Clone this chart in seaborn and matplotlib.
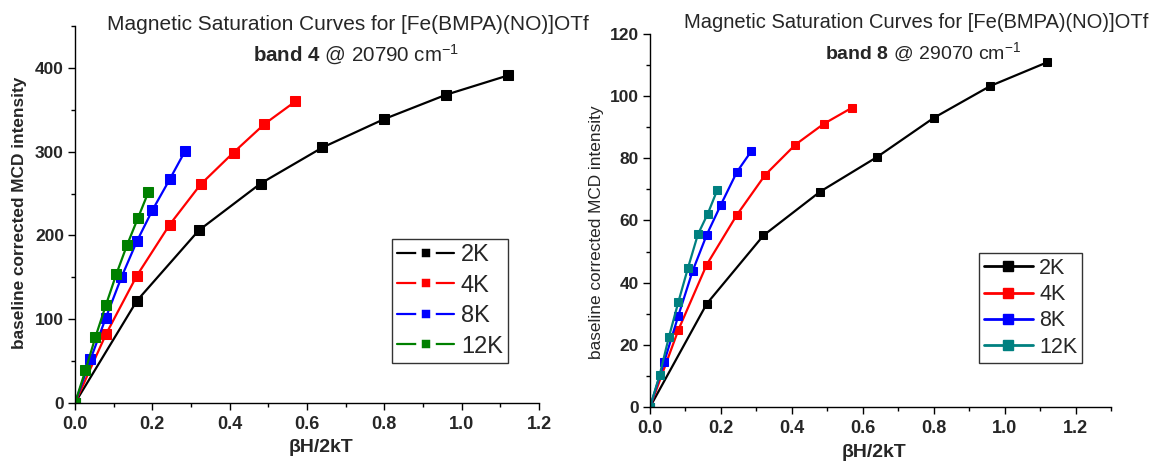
import numpy as np
import pandas as pd
import matplotlib
matplotlib.use("Agg")
import matplotlib.pyplot as plt
from matplotlib.lines import Line2D
from matplotlib.ticker import MultipleLocator
import seaborn as sns

# ---------------- data ----------------
temps = ["2K", "4K", "8K", "12K"]

# band 4 (left)
b4_x_2K = [0, 0.16, 0.32, 0.48, 0.64, 0.80, 0.96, 1.12]
b4_y_2K = [0, 122, 206, 262, 305, 339, 368, 391]
b4_x_4K = [0, 0.08, 0.16, 0.245, 0.325, 0.41, 0.49, 0.57]
b4_y_4K = [0, 82, 152, 213, 261, 299, 333, 360]
b4_x_8K = [0, 0.04, 0.08, 0.12, 0.16, 0.20, 0.245, 0.285]
b4_y_8K = [0, 52, 102, 150, 193, 230, 267, 301]
b4_x_12K = [0, 0.027, 0.053, 0.08, 0.107, 0.135, 0.163, 0.19]
b4_y_12K = [0, 39, 79, 117, 154, 189, 221, 252]

# band 8 (right)
b8_x_2K = [0, 0.16, 0.32, 0.48, 0.64, 0.80, 0.96, 1.12]
b8_y_2K = [0, 33.2, 55.2, 69.3, 80.4, 93.0, 103.3, 110.9]
b8_x_4K = [0, 0.08, 0.16, 0.245, 0.325, 0.41, 0.49, 0.57]
b8_y_4K = [0, 24.8, 45.8, 61.8, 74.7, 84.4, 91.1, 96.3]
b8_x_8K = [0, 0.04, 0.08, 0.12, 0.16, 0.20, 0.245, 0.285]
b8_y_8K = [0, 14.5, 29.4, 43.7, 55.4, 65.1, 75.6, 82.2]
b8_x_12K = [0, 0.027, 0.053, 0.08, 0.107, 0.135, 0.163, 0.19]
b8_y_12K = [0, 10.2, 22.4, 33.8, 44.7, 55.5, 62.2, 69.9]

colors_left = ["#000000", "#FF0000", "#0000FF", "#008000"]
colors_right = ["#000000", "#FF0000", "#0000FF", "#008080"]

title_main = "Magnetic Saturation Curves for [Fe(BMPA)(NO)]OTf"
ylabel = "baseline corrected MCD intensity"
xlabel = "βH/2kT"

# ---------------- style ----------------
sns.set_style("ticks")
plt.rcParams["font.family"] = ["Liberation Sans", "DejaVu Sans"]
plt.rcParams["mathtext.fontset"] = "custom"
plt.rcParams["mathtext.rm"] = "Liberation Sans"
plt.rcParams["mathtext.bf"] = "Liberation Sans:bold"
plt.rcParams["mathtext.it"] = "Liberation Sans:italic"

fig = plt.figure(figsize=(11.55, 4.61), dpi=100)
W, H = 1155, 461

def ax_rect(x0, x1, ytop, ybot):
    return [x0 / W, 1 - ybot / H, (x1 - x0) / W, (ybot - ytop) / H]

axL = fig.add_axes(ax_rect(75, 539, 26, 403))
axR = fig.add_axes(ax_rect(650, 1111, 34, 407))

def long_df(xs, ys):
    rows = []
    for t, xv, yv in zip(temps, xs, ys):
        for a, b in zip(xv, yv):
            rows.append((t, a, b))
    return pd.DataFrame(rows, columns=["T", "x", "y"])

dfL = long_df([b4_x_2K, b4_x_4K, b4_x_8K, b4_x_12K],
              [b4_y_2K, b4_y_4K, b4_y_8K, b4_y_12K])
dfR = long_df([b8_x_2K, b8_x_4K, b8_x_8K, b8_x_12K],
              [b8_y_2K, b8_y_4K, b8_y_8K, b8_y_12K])

for t, c in zip(temps, colors_left):
    sub = dfL[dfL["T"] == t]
    sns.lineplot(data=sub, x="x", y="y", ax=axL, color=c, marker="s",
                 markersize=7, markeredgecolor=c, linewidth=1.6,
                 legend=False, sort=False)
for t, c in zip(temps, colors_right):
    sub = dfR[dfR["T"] == t]
    sns.lineplot(data=sub, x="x", y="y", ax=axR, color=c, marker="s",
                 markersize=6.3, markeredgecolor=c, linewidth=1.6,
                 legend=False, sort=False)

# ---------------- axes ----------------
def style_axes(ax, xlim, ylim, ymaj, ymin, xsize, ysize):
    ax.set_xlim(*xlim)
    ax.set_ylim(*ylim)
    ax.xaxis.set_major_locator(MultipleLocator(0.2))
    ax.xaxis.set_minor_locator(MultipleLocator(0.1))
    ax.yaxis.set_major_locator(MultipleLocator(ymaj))
    ax.yaxis.set_minor_locator(MultipleLocator(ymin))
    ax.xaxis.set_major_formatter(matplotlib.ticker.FormatStrFormatter("%.1f"))
    ax.tick_params(which="major", direction="out", length=5, width=1,
                   color="black")
    ax.tick_params(which="minor", direction="out", length=3, width=1,
                   color="black")
    ax.tick_params(axis="y", pad=3, labelsize=ysize)
    ax.tick_params(axis="x", pad=4, labelsize=xsize)
    for lab in ax.get_xticklabels() + ax.get_yticklabels():
        lab.set_fontweight("bold")
    for s in ["top", "right"]:
        ax.spines[s].set_visible(False)
    for s in ["left", "bottom"]:
        ax.spines[s].set_linewidth(1.0)
        ax.spines[s].set_color("black")
    ax.set_facecolor("white")

style_axes(axL, (0, 1.2), (0, 450), 100, 50, 13, 12.5)
style_axes(axR, (0, 1.3), (0, 120), 20, 10, 13, 12.5)

axL.set_xlabel(xlabel, fontsize=14, fontweight="bold", va="center")
axR.set_xlabel(xlabel, fontsize=14, fontweight="bold", va="center")
axL.xaxis.set_label_coords(0.53, (403 - 447) / 377)
axR.xaxis.set_label_coords(0.486, (407 - 452) / 373)
axL.set_ylabel(ylabel, fontsize=12.4, fontweight="bold")
axR.set_ylabel(ylabel, fontsize=12.4)
axL.yaxis.set_label_coords((27 - 75) / 464, 0.505)
axR.yaxis.set_label_coords((604 - 650) / 461, 0.469)

# ---------------- titles ----------------
fig.text(348 / W, 1 - 24 / H, title_main, ha="center", va="center", fontsize=15)
fig.text(356 / W, 1 - 55 / H, r"$\mathbf{band\ 4}$ @ 20790 cm$^{-1}$",
         ha="center", va="center", fontsize=14.8)
fig.text(916 / W, 1 - 23 / H, title_main, ha="center", va="center", fontsize=14.5)
fig.text(923 / W, 1 - 52 / H, r"$\mathbf{band\ 8}$ @ 29070 cm$^{-1}$",
         ha="center", va="center", fontsize=14)

# ---------------- legends ----------------
hL = [Line2D([], [], color=c, linewidth=1.6, marker="s", markersize=10.4,
             markerfacecolor=c, markeredgecolor="white", markeredgewidth=4.0)
      for c in colors_left]
hR = [Line2D([], [], color=c, linewidth=2.0, marker="s", markersize=7,
             markerfacecolor=c, markeredgecolor=c)
      for c in colors_right]

legL = fig.legend(hL, temps, loc="upper left",
                  bbox_to_anchor=(392 / W, 1 - 239 / H), borderaxespad=0,
                  fontsize=17, frameon=True, fancybox=False, edgecolor="black",
                  handlelength=2.4, handletextpad=0.3, labelspacing=0.36,
                  borderpad=0.22)
legL.get_frame().set_linewidth(1.0)
legR = fig.legend(hR, temps, loc="upper left",
                  bbox_to_anchor=(979 / W, 1 - 253 / H), borderaxespad=0,
                  fontsize=15.5, frameon=True, fancybox=False, edgecolor="black",
                  handlelength=2.3, handletextpad=0.28, labelspacing=0.25,
                  borderpad=0.22)
legR.get_frame().set_linewidth(1.0)

fig.savefig("out.png", dpi=100, facecolor="white")
